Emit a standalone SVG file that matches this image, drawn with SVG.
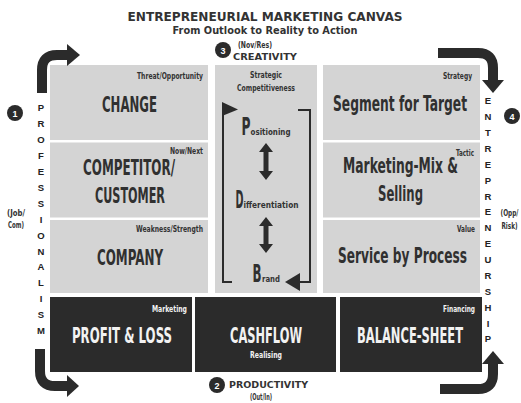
<svg xmlns="http://www.w3.org/2000/svg" width="521" height="403" viewBox="0 0 521 403">
<defs>
<style>
.bg{fill:#ffffff}
.lt{fill:#d4d4d4}
.dk{fill:#2b2b2b}
.cond{font-family:"Liberation Sans Narrow","DejaVu Sans Condensed","Liberation Sans",sans-serif;font-stretch:condensed}
.big{font-size:22px;fill:#303030;font-weight:bold}
.bigw{font-size:22px;fill:#f2f2f2;font-weight:bold}
.sm{font-size:8.5px;fill:#333333;font-weight:bold}
.smw{font-size:8.5px;fill:#f2f2f2;font-weight:bold}
.head{font-family:"DejaVu Sans","Liberation Sans",sans-serif;font-weight:bold;fill:#333333}
.vl{font-family:"Liberation Sans","DejaVu Sans",sans-serif;font-weight:bold;font-size:9.5px;fill:#222222;text-anchor:middle}
.num{font-family:"Liberation Sans",sans-serif;font-weight:bold;font-size:9px;fill:#ffffff;text-anchor:middle}
.cur{fill:none;stroke:#2b2b2b;stroke-width:10}
.brk{fill:none;stroke:#2b2b2b;stroke-width:2}
.ah{fill:#2b2b2b}
</style>
</defs>
<rect class="bg" x="0" y="0" width="521" height="403"/>

<g id="title">
<text class="head" x="265" y="21" font-size="12" text-anchor="middle" textLength="275" lengthAdjust="spacingAndGlyphs">ENTREPRENEURIAL MARKETING CANVAS</text>
<text class="head" x="265" y="34" font-size="10" text-anchor="middle" textLength="185" lengthAdjust="spacingAndGlyphs">From Outlook to Reality to Action</text>
</g>

<g id="creativity">
<circle class="dk" cx="223" cy="50" r="8"/>
<text class="num" x="223" y="53.5">3</text>
<text class="cond sm" x="255" y="48" text-anchor="middle" textLength="34" lengthAdjust="spacingAndGlyphs" font-weight="normal">(Nov/Res)</text>
<text class="head" x="265" y="60" font-size="9.5" text-anchor="middle" textLength="64" lengthAdjust="spacingAndGlyphs">CREATIVITY</text>
</g>

<g id="productivity">
<circle class="dk" cx="217" cy="385" r="8"/>
<text class="num" x="217" y="388.5">2</text>
<text class="head" x="268.5" y="388" font-size="9.5" text-anchor="middle" textLength="79" lengthAdjust="spacingAndGlyphs">PRODUCTIVITY</text>
<text class="cond sm" x="261" y="400" text-anchor="middle" textLength="22" lengthAdjust="spacingAndGlyphs">(Out/In)</text>
</g>

<g id="professionalism">
<circle class="dk" cx="15" cy="113" r="8"/>
<text class="num" x="15" y="116.5">1</text>
<text class="vl" x="41" y="111">P</text>
<text class="vl" x="41" y="127">R</text>
<text class="vl" x="41" y="143">O</text>
<text class="vl" x="41" y="159">F</text>
<text class="vl" x="41" y="175">E</text>
<text class="vl" x="41" y="190.5">S</text>
<text class="vl" x="41" y="206.5">S</text>
<text class="vl" x="41" y="222.5">I</text>
<text class="vl" x="41" y="238.5">O</text>
<text class="vl" x="41" y="254.5">N</text>
<text class="vl" x="41" y="270">A</text>
<text class="vl" x="41" y="286">L</text>
<text class="vl" x="41" y="302">I</text>
<text class="vl" x="41" y="318">S</text>
<text class="vl" x="41" y="334">M</text>
<text class="cond sm" x="16" y="216" text-anchor="middle" textLength="18" lengthAdjust="spacingAndGlyphs">(Job/</text>
<text class="cond sm" x="16" y="228" text-anchor="middle" textLength="16" lengthAdjust="spacingAndGlyphs">Com)</text>
</g>

<g id="entrepreneurship">
<circle class="dk" cx="512" cy="116" r="8"/>
<text class="num" x="512" y="119.5">4</text>
<text class="vl" x="488" y="104">E</text>
<text class="vl" x="488" y="120">N</text>
<text class="vl" x="488" y="136">T</text>
<text class="vl" x="488" y="151.5">R</text>
<text class="vl" x="488" y="167.5">E</text>
<text class="vl" x="488" y="183.5">P</text>
<text class="vl" x="488" y="199.5">R</text>
<text class="vl" x="488" y="215">E</text>
<text class="vl" x="488" y="231">N</text>
<text class="vl" x="488" y="247">E</text>
<text class="vl" x="488" y="263">U</text>
<text class="vl" x="488" y="279">R</text>
<text class="vl" x="488" y="295">S</text>
<text class="vl" x="488" y="311">H</text>
<text class="vl" x="488" y="326.5">I</text>
<text class="vl" x="488" y="342">P</text>
<text class="cond sm" x="509.5" y="216" text-anchor="middle" textLength="18" lengthAdjust="spacingAndGlyphs">(Opp/</text>
<text class="cond sm" x="509.5" y="229" text-anchor="middle" textLength="16" lengthAdjust="spacingAndGlyphs">Risk)</text>
</g>

<g id="change">
<rect class="lt" x="50" y="65" width="158" height="75"/>
<text class="cond sm" x="203" y="78.5" text-anchor="end" textLength="66" lengthAdjust="spacingAndGlyphs">Threat/Opportunity</text>
<text class="cond big" x="129.5" y="112" text-anchor="middle" textLength="55" lengthAdjust="spacingAndGlyphs">CHANGE</text>
</g>

<g id="competitor">
<rect class="lt" x="50" y="142.5" width="158" height="75"/>
<text class="cond sm" x="203" y="153.5" text-anchor="end" textLength="33" lengthAdjust="spacingAndGlyphs">Now/Next</text>
<text class="cond big" x="129" y="175" text-anchor="middle" textLength="92" lengthAdjust="spacingAndGlyphs">COMPETITOR/</text>
<text class="cond big" x="130" y="203" text-anchor="middle" textLength="70" lengthAdjust="spacingAndGlyphs">CUSTOMER</text>
</g>

<g id="company">
<rect class="lt" x="50" y="220" width="158" height="73"/>
<text class="cond sm" x="203" y="231.5" text-anchor="end" textLength="67" lengthAdjust="spacingAndGlyphs">Weakness/Strength</text>
<text class="cond big" x="130" y="265" text-anchor="middle" textLength="66" lengthAdjust="spacingAndGlyphs">COMPANY</text>
</g>

<g id="strategic">
<rect class="lt" x="215" y="65" width="102" height="228"/>
<text class="cond sm" x="266" y="78" text-anchor="middle" textLength="32" lengthAdjust="spacingAndGlyphs" font-weight="normal">Strategic</text>
<text class="cond sm" x="266" y="91" text-anchor="middle" textLength="58" lengthAdjust="spacingAndGlyphs" font-weight="normal">Competitiveness</text>
<text class="cond" x="241.5" y="135" font-size="24" font-weight="bold" fill="#303030" textLength="9" lengthAdjust="spacingAndGlyphs">P</text>
<text class="cond sm" x="250.5" y="135" textLength="40" lengthAdjust="spacingAndGlyphs">ositioning</text>
<text class="cond" x="235.5" y="208" font-size="24" font-weight="bold" fill="#303030" textLength="8" lengthAdjust="spacingAndGlyphs">D</text>
<text class="cond sm" x="243.5" y="208" textLength="55" lengthAdjust="spacingAndGlyphs">ifferentiation</text>
<text class="cond" x="252.5" y="282" font-size="24" font-weight="bold" fill="#303030" textLength="9" lengthAdjust="spacingAndGlyphs">B</text>
<text class="cond sm" x="262" y="282" textLength="18" lengthAdjust="spacingAndGlyphs">rand</text>
</g>

<g id="segment">
<rect class="lt" x="323" y="65" width="157" height="75"/>
<text class="cond sm" x="472" y="78.5" text-anchor="end" textLength="29" lengthAdjust="spacingAndGlyphs">Strategy</text>
<text class="cond big" x="400" y="111" text-anchor="middle" textLength="134" lengthAdjust="spacingAndGlyphs">Segment for Target</text>
</g>

<g id="marketing-mix">
<rect class="lt" x="323" y="142.5" width="157" height="75"/>
<text class="cond sm" x="474" y="156" text-anchor="end" textLength="18" lengthAdjust="spacingAndGlyphs">Tactic</text>
<text class="cond big" x="400.5" y="173" text-anchor="middle" textLength="115" lengthAdjust="spacingAndGlyphs">Marketing-Mix &amp;</text>
<text class="cond big" x="400.5" y="201" text-anchor="middle" textLength="45" lengthAdjust="spacingAndGlyphs">Selling</text>
</g>

<g id="service">
<rect class="lt" x="323" y="220" width="157" height="73"/>
<text class="cond sm" x="475" y="231.5" text-anchor="end" textLength="18" lengthAdjust="spacingAndGlyphs">Value</text>
<text class="cond big" x="402.5" y="263" text-anchor="middle" textLength="129" lengthAdjust="spacingAndGlyphs">Service by Process</text>
</g>

<g id="profit-loss">
<rect class="dk" x="50" y="297" width="142" height="75"/>
<text class="cond smw" x="187" y="312" text-anchor="end" textLength="35" lengthAdjust="spacingAndGlyphs">Marketing</text>
<text class="cond bigw" x="122" y="343" text-anchor="middle" textLength="100" lengthAdjust="spacingAndGlyphs">PROFIT &amp; LOSS</text>
</g>

<g id="cashflow">
<rect class="dk" x="195" y="297" width="141" height="75"/>
<text class="cond bigw" x="266" y="343" text-anchor="middle" textLength="72" lengthAdjust="spacingAndGlyphs">CASHFLOW</text>
<text class="cond smw" x="266" y="358" text-anchor="middle" textLength="32" lengthAdjust="spacingAndGlyphs">Realising</text>
</g>

<g id="balance-sheet">
<rect class="dk" x="340" y="297" width="142" height="75"/>
<text class="cond smw" x="475" y="312" text-anchor="end" textLength="32" lengthAdjust="spacingAndGlyphs">Financing</text>
<text class="cond bigw" x="410" y="343" text-anchor="middle" textLength="106" lengthAdjust="spacingAndGlyphs">BALANCE-SHEET</text>
</g>

<g id="connectors">
<path class="cur" d="M42,93 V70 Q42,55 57,55 H68"/>
<polygon class="ah" points="67,44 80,55 67,66"/>
<path class="cur" d="M438,53 H478 Q493,53 493,68 V81"/>
<polygon class="ah" points="482,80 504,80 493,93"/>
<path class="cur" d="M40,349 V371 Q40,386 55,386 H68"/>
<polygon class="ah" points="67,375 79,386 67,397"/>
<path class="cur" d="M440,389 H478 Q493,389 493,374 V363"/>
<polygon class="ah" points="482,364 504,364 493,351"/>
<path class="brk" d="M232,282 H223 V103"/>
<polygon class="ah" points="222,102 238,109.5 222,116"/>
<path class="brk" d="M298,110 H310 V282 H299"/>
<polygon class="ah" points="300,273 285,282 300,291"/>
<polygon class="ah" points="266,143 273,152 268.5,152 268.5,171 273,171 266,180 259,171 263.5,171 263.5,152 259,152"/>
<polygon class="ah" points="266,217 273,226 268.5,226 268.5,244 273,244 266,253 259,244 263.5,244 263.5,226 259,226"/>
</g>
</svg>
